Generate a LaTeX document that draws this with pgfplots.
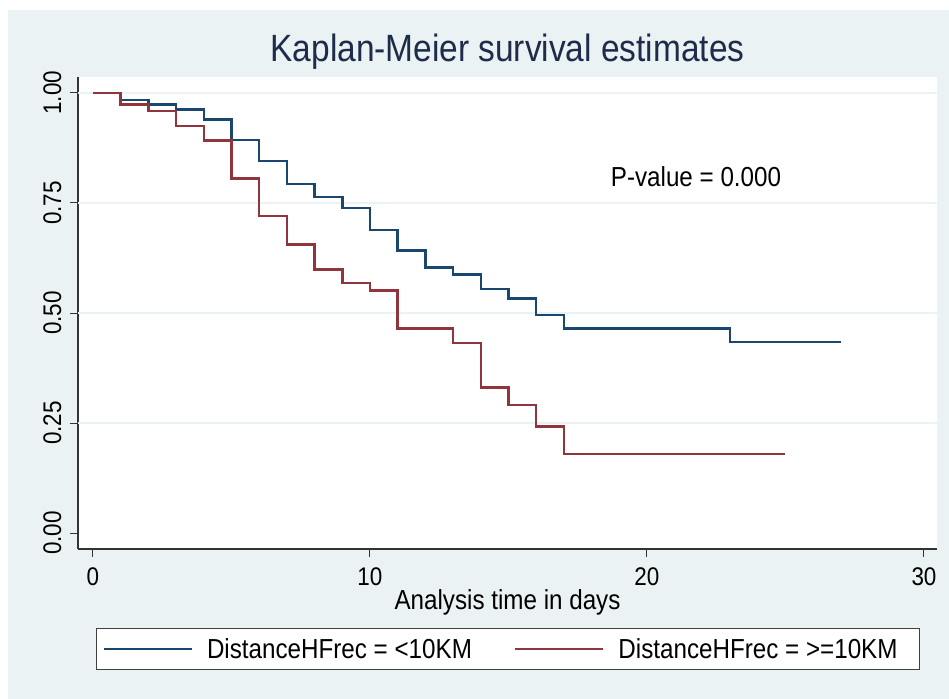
\documentclass[border=0pt]{standalone}
\usepackage{pgfplots}
\pgfplotsset{compat=1.18}
\usepackage{fontspec}
\setmainfont{Liberation Sans}[FakeStretch=0.88]
\definecolor{stbg}{HTML}{EAF2F3}
\definecolor{stblue}{HTML}{1A476F}
\definecolor{stred}{HTML}{90353B}
\definecolor{sttitle}{HTML}{1E2B4A}
\begin{document}
\begin{tikzpicture}
\fill[white] (0,0) rectangle (949bp,-699bp);
\fill[stbg] (8bp,-10bp) rectangle (949bp,-699bp);
\node[text=sttitle, font=\fontsize{38bp}{44bp}\selectfont] at (507.5bp,-52bp) {Kaplan-Meier survival estimates};
\begin{axis}[
 at={(78bp,-549bp)}, anchor=south west,
 scale only axis, width=859bp, height=472bp,
 xmin=-0.54, xmax=30.47, ymin=-0.036, ymax=1.036,
 axis x line*=bottom, axis y line*=left,
 axis line style={-, black!80, line width=1.1bp},
 axis background/.style={fill=white},
 xtick={0,10,20,30}, ytick={0,0.25,0.5,0.75,1},
 tick align=outside, major tick length=8bp,
 tick style={black!80, line width=1bp},
 /pgf/number format/assume math mode=true,
 ticklabel style={font=\fontsize{25.5bp}{30bp}\selectfont},
 xticklabel shift=7bp,
 yticklabel shift=5bp,
 yticklabel style={rotate=90, anchor=south, /pgf/number format/.cd, fixed, fixed zerofill, precision=2},
 extra y ticks={0.25,0.5,0.75,1}, extra y tick labels={},
 extra y tick style={grid=major, major tick length=0pt, major grid style={stbg, line width=2bp}},
 xlabel={Analysis time in days},
 xlabel style={at={(axis description cs:0.5,-0.1123)}, anchor=center, font=\fontsize{27.5bp}{32bp}\selectfont},
 legend columns=2,
 legend style={at={(axis description cs:0.021,-0.1674)}, anchor=north west, draw=black!75, line width=1bp, fill=white,
   font=\fontsize{27.5bp}{32bp}\selectfont, inner xsep=6bp, inner ysep=8bp,
   /tikz/every odd column/.append style={column sep=12bp},
   /tikz/every even column/.append style={column sep=40bp}},
 legend image code/.code={\draw[#1, line width=2.5bp] (0bp,0bp) -- (88bp,0bp);},
]
\addplot[const plot, stblue, line width=2.5bp] table {
0 1.000
1 0.984
2 0.974
3 0.962
4 0.939
5 0.893
6 0.845
7 0.793
8 0.764
9 0.738
10 0.689
11 0.642
12 0.603
13 0.588
14 0.554
15 0.533
16 0.495
17 0.465
23 0.434
27 0.434
};
\addlegendentry{DistanceHFrec = <10KM}
\addplot[const plot, stred, line width=2.5bp] table {
0 1.000
1 0.973
2 0.959
3 0.925
4 0.892
5 0.806
6 0.720
7 0.656
8 0.599
9 0.568
10 0.551
11 0.465
13 0.432
14 0.331
15 0.291
16 0.242
17 0.180
25 0.180
};
\addlegendentry{DistanceHFrec = >=10KM\hspace*{14bp}}
\node[font=\fontsize{27.5bp}{32bp}\selectfont] at (axis cs:21.77,0.809) {P-value = 0.000};
\end{axis}
\end{tikzpicture}
\end{document}
